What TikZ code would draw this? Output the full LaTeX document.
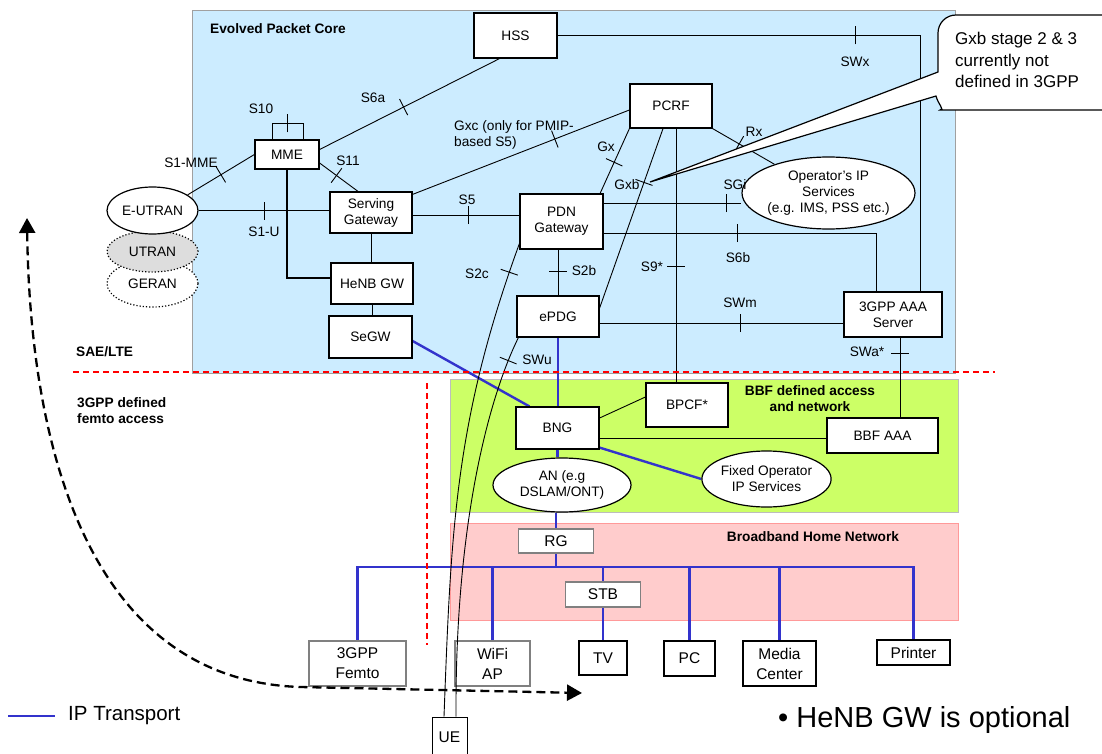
\documentclass[tikz,border=0pt]{standalone}
\usepackage{fontspec}
\setmainfont{Liberation Sans}
\usetikzlibrary{shapes.geometric,arrows.meta,decorations.markings}
\definecolor{epcblue}{HTML}{CCECFF}
\definecolor{bbfgreen}{HTML}{CCFF66}
\definecolor{homepink}{HTML}{FFCCCC}
\definecolor{homeborder}{HTML}{FF9999}
\definecolor{ipblue}{HTML}{3333CC}
\definecolor{utrangray}{HTML}{DDDDDD}
\definecolor{frame}{HTML}{A0A0A0}
\definecolor{boxgray}{HTML}{808080}
\pgfdeclarelayer{bg}
\pgfdeclarelayer{mid}
\pgfsetlayers{bg,mid,main}
\newcommand{\mylbl}{\fontsize{13.7}{16}\selectfont}
\newcommand{\mydev}{\fontsize{15.5}{20}\selectfont}
\tikzset{
  box/.style={draw, line width=1.2pt, fill=white, rectangle, inner sep=0pt, align=center, font=\mylbl},
  gbox/.style={box, draw=boxgray, font=\mydev},
  dbox/.style={box, font=\mydev},
  ell/.style={draw, line width=1.2pt, fill=white, ellipse, inner sep=0pt, align=center, font=\mylbl},
  conn/.style={line width=0.9pt},
  ip/.style={draw=ipblue, line width=2.4pt},
  lab/.style={font=\mylbl, inner sep=0pt, align=center},
  blab/.style={font=\mylbl\bfseries, inner sep=0pt, align=center},
  tk/.style={postaction={decorate, decoration={markings, mark=at position #1 with {\draw[line width=0.9pt] (0pt,-9pt) -- (0pt,9pt);}}}},
  reddash/.style={draw=red, line width=1.2pt, dash pattern=on 6pt off 4pt}
}
\begin{document}
\begin{tikzpicture}[x=1pt, y=-1pt]
\useasboundingbox (0,0) rectangle (1102,754);

% background regions
\begin{pgfonlayer}{bg}
\filldraw[fill=epcblue, draw=frame, line width=1pt] (192,11) rectangle (955,373);
\filldraw[fill=bbfgreen, draw=frame!70, line width=1pt] (450,379) rectangle (958,512);
\filldraw[fill=homepink, draw=homeborder, line width=0.8pt] (450,523) rectangle (958,620);
\end{pgfonlayer}

% region titles
\node[blab, anchor=west] (tEPC) at (210,29) {Evolved Packet Core};
\node[blab, anchor=west] (tSAE) at (76,352) {SAE/LTE};
\node[blab, anchor=west, align=left] (tFemto) at (77,411) {3GPP defined\\femto access};
\node[blab] (tBBF) at (810,399) {BBF defined access\\and network};
\node[blab] (tHome) at (813,537) {Broadband Home Network};

% radio access
\node[ell, dotted, minimum width=91pt, minimum height=47pt] (geran) at (152.5,283.5) {GERAN};
\node[ell, dotted, fill=utrangray, minimum width=91pt, minimum height=41pt] (utran) at (152.5,251.5) {UTRAN};
\node[ell, minimum width=91pt, minimum height=47pt] (eutran) at (152.5,210.5) {E-UTRAN};

% EPC nodes
\node[box, minimum width=83pt, minimum height=45pt] (hss) at (515.5,35.5) {HSS};
\node[box, minimum width=82pt, minimum height=44pt] (pcrf) at (671,106) {PCRF};
\node[box, minimum width=64pt, minimum height=29pt] (mme) at (287,154.5) {MME};
\node[box, minimum width=82pt, minimum height=41pt] (sgw) at (371,212.5) {Serving\\Gateway};
\node[box, minimum width=82pt, minimum height=41pt] (henb) at (372,283.5) {HeNB GW};
\node[box, minimum width=83pt, minimum height=42pt] (segw) at (370.5,337) {SeGW};
\node[box, minimum width=83pt, minimum height=55pt] (pdn) at (561.5,221.5) {PDN\\Gateway};
\node[box, minimum width=82pt, minimum height=41pt] (epdg) at (558,316.5) {ePDG};
\node[ell, minimum width=150pt, minimum height=72pt] (ops) at (828.5,193) {Operator's IP\\Services\\(e.g. IMS, PSS etc.)};
\node[box, minimum width=98pt, minimum height=45pt] (aaa3) at (893,314.5) {3GPP AAA\\Server};

% BBF nodes
\node[box, minimum width=83pt, minimum height=42pt] (bng) at (557.5,428) {BNG};
\node[box, minimum width=82pt, minimum height=44pt] (bpcf) at (687,405) {BPCF*};
\node[box, minimum width=111pt, minimum height=35pt] (bbfaaa) at (882.5,435.5) {BBF AAA};
\node[ell, minimum width=138pt, minimum height=54pt] (an) at (562,485) {AN (e.g\\DSLAM/ONT)};
\node[ell, minimum width=127pt, minimum height=56pt] (fixed) at (766.5,479) {Fixed Operator\\IP Services};

% home network nodes
\node[gbox, minimum width=75pt, minimum height=24pt] (rg) at (556,541) {RG};
\node[gbox, minimum width=75pt, minimum height=25pt] (stb) at (603,594.5) {STB};
\node[gbox, minimum width=97pt, minimum height=45pt] (femto) at (357.5,663.5) {3GPP\\Femto};
\node[gbox, minimum width=75pt, minimum height=45pt] (wifi) at (492.5,663.5) {WiFi\\AP};
\node[dbox, minimum width=48pt, minimum height=34pt] (tv) at (603,658) {TV};
\node[dbox, minimum width=51pt, minimum height=35pt] (pc) at (689.5,658.5) {PC};
\node[dbox, minimum width=73pt, minimum height=45pt] (media) at (779.5,663.5) {Media\\Center};
\node[dbox, minimum width=73pt, minimum height=25pt] (printer) at (913.5,652.5) {Printer};
\node[dbox, line width=0.8pt, minimum width=35pt, minimum height=40pt] (ue) at (449.5,737) {UE};
\coordinate (bus) at (600,567);

% connectors
\begin{pgfonlayer}{mid}
\draw[conn, tk=.481] (hss.east) -| ([xshift=27pt]aaa3.north);
\draw[conn, tk=.467] ([yshift=5pt]mme.east) -- ([xshift=-16pt]hss.south);
\draw[conn, tk=.5] (eutran.24) -- (mme.west);
\draw[conn, tk=.5] (eutran.east) -- (eutran.east -| sgw.west);
\draw[conn, tk=.5] ([xshift=-15pt]mme.north) -- ++(0,-16) -- ++(31,0) -- ++(0,16);
\draw[conn, tk=.44] ([yshift=-8.5pt]mme.east) -- ([xshift=-13pt]sgw.north);
\draw[line width=2pt] (mme.south) |- ([yshift=6pt]henb.west);
\draw[conn] (sgw.south) -- (sgw.south |- henb.north);
\draw[conn] (henb.south) -- (henb.south |- segw.north);
\draw[conn, tk=.52] ([yshift=-2.5pt]sgw.east) -- ([yshift=-2.5pt]sgw.east -| pdn.west);
\draw[conn, tk=.656] ([yshift=-3pt]sgw.north east) -- ([yshift=-4pt]pcrf.west);
\draw[conn, tk=.52] (pcrf.south west) -- ([xshift=-3.5pt]pdn.north east);
\draw[conn, tk=.3] ([xshift=-8pt]pcrf.south) -- ([yshift=8.5pt]epdg.east);
\draw[conn, tk=.545] ([xshift=5pt]pcrf.south) -- ([xshift=5pt]pcrf.south |- bpcf.north);
\draw[conn, tk=.43] (pcrf.south east) -- (ops.152);
\draw[conn, tk=.89] ([yshift=18.5pt]pdn.east) -- ([yshift=18.5pt]pdn.east -| ops.west);
\draw[conn, tk=.404] ([yshift=-11.5pt]pdn.east) -| ([xshift=-17pt]aaa3.north);
\draw[conn, tk=.47] (epdg.north |- pdn.south) -- (epdg.north);
\draw[conn, tk=.576] ([yshift=-6.5pt]epdg.east) -- ([yshift=-6.5pt]epdg.east -| aaa3.west);
\draw[conn, tk=.2] ([xshift=7pt]aaa3.south) -- ([xshift=7pt]aaa3.south |- bbfaaa.north);
\draw[conn] ([yshift=10pt]bng.east) -- ([yshift=8pt]bpcf.west);
\draw[conn] ([yshift=-10pt]bng.east) -- ([yshift=-10pt]bng.east -| bbfaaa.west);
% IP transport
\draw[ip] ([yshift=-4pt]segw.east) -- ([xshift=14pt]bng.north west);
\draw[ip] (epdg.south) -- (epdg.south |- bng.north);
\draw[ip] ([yshift=2pt]bng.south east) -- (fixed.west);
\draw[ip] (bng.south) -- (bng.south |- an.north);
\draw[ip] (rg.north |- an.south) -- (rg.north);
\draw[ip] (rg.south) -- (rg.south |- bus);
\draw[ip] (femto.north) |- (bus) -| (printer.north);
\draw[ip] (wifi.north) -- (wifi.north |- bus);
\draw[ip] (stb.north) -- (stb.north |- bus);
\draw[ip] (pc.north) -- (pc.north |- bus);
\draw[ip] (media.north) -- (media.north |- bus);
\draw[ip] (stb.south) -- (tv.north);
\end{pgfonlayer}

% curves to UE
\draw[conn, tk=.063] ([yshift=6pt]pdn.south west) .. controls (455,420) and (451,529) .. ([xshift=-5.5pt]ue.north);
\draw[conn, tk=.065] ([xshift=2pt]epdg.south west) .. controls (490,395) and (455,520) .. ([xshift=6.5pt]ue.north);

% interface labels
\node[lab] (lS6a) at (373,98) {S6a};
\node[lab] (lS10) at (261,109) {S10};
\node[lab] (lS1MME) at (191,163) {S1-MME};
\node[lab] (lS11) at (348,161) {S11};
\node[lab] (lS1U) at (264,232) {S1-U};
\node[lab] (lS5) at (467,200) {S5};
\node[lab, anchor=west, align=left] (lGxc) at (454,135) {Gxc (only for PMIP-\\based S5)};
\node[lab] (lGx) at (606,147) {Gx};
\node[lab] (lGxb) at (627,185) {Gxb};
\node[lab] (lRx) at (754,132) {Rx};
\node[lab] (lSGi) at (735,185) {SGi};
\node[lab] (lS6b) at (738,258) {S6b};
\node[lab] (lSWx) at (855,62) {SWx};
\node[lab] (lS2c) at (477,274) {S2c};
\node[lab] (lS2b) at (584,271) {S2b};
\node[lab] (lS9) at (652,267) {S9*};
\node[lab] (lSWm) at (740,303) {SWm};
\node[lab] (lSWu) at (537,360) {SWu};
\node[lab] (lSWa) at (867,352) {SWa*};

% callout
\draw[line width=1.2pt, fill=white] (938,72) [rounded corners=18pt] -- (938,15) -- (1125,15) -- (1125,110) -- (958,110) [sharp corners] .. controls (945,110) and (938,104) .. (936,96) -- (650,182) -- cycle;
\node[anchor=west, align=left, inner sep=0pt, font=\fontsize{17}{21.5}\selectfont] (calltext) at (955,60) {Gxb stage 2 \& 3\\currently not\\defined in 3GPP};

% domain borders
\coordinate (rh1) at (73,372);
\coordinate (rh2) at (995,372);
\coordinate (rv1) at (427,383);
\coordinate (rv2) at (427,645);
\draw[reddash] (rh1) -- (rh2);
\draw[reddash] (rv1) -- (rv2);

% mobility arrow
\coordinate (dA) at (27,218);
\coordinate (dB) at (300,687);
\coordinate (dC) at (582,693);
\draw[line width=2.3pt, dash pattern=on 9pt off 5pt, {Triangle[length=15pt,width=16pt]}-{Triangle[length=15pt,width=16pt]}] (dA) .. controls (30,450) and (90,680) .. (dB) -- (dC);

% legend
\coordinate (lg1) at (8,716);
\coordinate (lg2) at (55,716);
\draw[ip] (lg1) -- (lg2);
\node[anchor=west, inner sep=0pt, font=\fontsize{20.5}{24}\selectfont] (lgt) at (68,716) {IP Transport};
\node[anchor=west, inner sep=0pt, font=\fontsize{29}{33}\selectfont] (note) at (778,720) {\textbullet\ HeNB GW is optional};
\end{tikzpicture}
\end{document}
